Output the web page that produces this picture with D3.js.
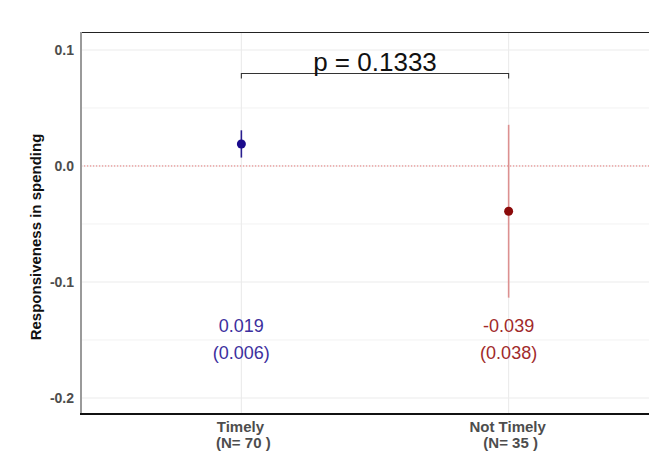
<!DOCTYPE html>
<html>
<head>
<meta charset="utf-8">
<script src="https://cdn.jsdelivr.net/npm/d3@7"></script>
<style>
  body { margin: 0; background: #fff; }
  svg { display: block; font-family: "Liberation Sans", Arial, sans-serif; }
</style>
</head>
<body>
<script>
// data
var groups = ['Timely', 'Not Timely'];
var groupN = [70, 35];
var means = [0.019, -0.039];
var ses = [0.006, 0.038];
var yTicks = [0.1, 0.0, -0.1, -0.2];
var yMinor = [0.05, -0.05, -0.15];
var pLabel = 'p = 0.1333';

var width = 649, height = 455;
var margin = { left: 81, top: 32, bottom: 41 };
var panelRight = 669; // panel runs past the right edge of the picture

var svg = d3.select('body').append('svg').attr('width', width).attr('height', height);

var x = d3.scalePoint().domain(groups).range([margin.left, panelRight]).padding(0.6);
var y = d3.scaleLinear().domain([-0.2138, 0.1155]).range([height - margin.bottom, margin.top]);

var fillCol = ['#1a0b8c', '#8b0a0a'];
var barCol = ['#2a1f8f', '#dc9090'];
var textCol = ['#3d2f9e', '#a12a2a'];

// grid
svg.selectAll('.minor').data(yMinor).enter().append('line')
  .attr('x1', margin.left).attr('x2', panelRight)
  .attr('y1', function (d) { return y(d); }).attr('y2', function (d) { return y(d); })
  .attr('stroke', '#f2f2f2').attr('stroke-width', 1);
svg.selectAll('.major').data(yTicks).enter().append('line')
  .attr('x1', margin.left).attr('x2', panelRight)
  .attr('y1', function (d) { return y(d); }).attr('y2', function (d) { return y(d); })
  .attr('stroke', '#ebebeb').attr('stroke-width', 1.1);
svg.selectAll('.vgrid').data(groups).enter().append('line')
  .attr('x1', function (d) { return x(d); }).attr('x2', function (d) { return x(d); })
  .attr('y1', margin.top).attr('y2', height - margin.bottom)
  .attr('stroke', '#ebebeb').attr('stroke-width', 1.1);

// zero reference line
svg.append('line')
  .attr('x1', margin.left).attr('x2', panelRight)
  .attr('y1', y(0)).attr('y2', y(0))
  .attr('stroke', '#e87878').attr('stroke-width', 1).attr('stroke-dasharray', '1.2,1.8');

// error bars (mean +/- 1.96 se) and points
svg.selectAll('.err').data(groups).enter().append('line')
  .attr('x1', function (d) { return x(d); }).attr('x2', function (d) { return x(d); })
  .attr('y1', function (d, i) { return y(means[i] + 1.96 * ses[i]); })
  .attr('y2', function (d, i) { return y(means[i] - 1.96 * ses[i]); })
  .attr('stroke', function (d, i) { return barCol[i]; }).attr('stroke-width', 1.6);
svg.selectAll('.pt').data(groups).enter().append('circle')
  .attr('cx', function (d) { return x(d); })
  .attr('cy', function (d, i) { return y(means[i]); })
  .attr('r', 4.5)
  .attr('fill', function (d, i) { return fillCol[i]; });

// value labels
svg.selectAll('.mean').data(groups).enter().append('text')
  .attr('x', function (d) { return x(d); }).attr('y', y(-0.1435))
  .attr('text-anchor', 'middle').attr('font-size', 18)
  .attr('fill', function (d, i) { return textCol[i]; })
  .text(function (d, i) { return means[i].toFixed(3); });
svg.selectAll('.se').data(groups).enter().append('text')
  .attr('x', function (d) { return x(d); }).attr('y', y(-0.166))
  .attr('text-anchor', 'middle').attr('font-size', 18)
  .attr('fill', function (d, i) { return textCol[i]; })
  .text(function (d, i) { return '(' + ses[i].toFixed(3) + ')'; });

// p-value bracket
var bTop = y(0.0797), bTip = y(0.0754);
var x0 = x(groups[0]), x1 = x(groups[1]);
svg.append('path')
  .attr('d', 'M' + x0 + ',' + bTip + 'V' + bTop + 'H' + x1 + 'V' + bTip)
  .attr('fill', 'none').attr('stroke', '#333').attr('stroke-width', 1.1);
svg.append('text')
  .attr('x', (x0 + x1) / 2).attr('y', bTop - 3)
  .attr('text-anchor', 'middle').attr('font-size', 26).attr('fill', '#111')
  .text(pLabel);

// panel lines
svg.append('line').attr('x1', margin.left).attr('x2', width)
  .attr('y1', margin.top + 0.5).attr('y2', margin.top + 0.5)
  .attr('stroke', '#222').attr('stroke-width', 1);
svg.append('line').attr('x1', margin.left).attr('x2', margin.left)
  .attr('y1', margin.top).attr('y2', height - margin.bottom + 1)
  .attr('stroke', '#9a9a9a').attr('stroke-width', 2);
svg.append('line').attr('x1', margin.left - 1).attr('x2', width)
  .attr('y1', height - margin.bottom).attr('y2', height - margin.bottom)
  .attr('stroke', '#111').attr('stroke-width', 2);

// y axis labels
svg.selectAll('.ytick').data(yTicks).enter().append('text')
  .attr('x', margin.left - 7).attr('y', function (d) { return y(d); })
  .attr('dy', '0.36em').attr('text-anchor', 'end')
  .attr('font-size', 14).attr('font-weight', 'bold').attr('fill', '#4d4d4d')
  .text(function (d) { return d.toFixed(1); });

// x axis labels
var xl = svg.selectAll('.xlab').data(groups).enter().append('text')
  .attr('text-anchor', 'middle').attr('font-size', 15).attr('font-weight', 'bold').attr('fill', '#4d4d4d');
xl.append('tspan').attr('x', function (d) { return x(d) - 1; }).attr('y', 432)
  .text(function (d) { return d; });
xl.append('tspan').attr('x', function (d) { return x(d) + 2; }).attr('y', 448)
  .text(function (d, i) { return '(N= ' + groupN[i] + ' )'; });

// y axis title
svg.append('text')
  .attr('transform', 'translate(41,237) rotate(-90)')
  .attr('text-anchor', 'middle').attr('font-size', 15).attr('font-weight', 'bold').attr('fill', '#111')
  .text('Responsiveness in spending');
</script>
</body>
</html>
